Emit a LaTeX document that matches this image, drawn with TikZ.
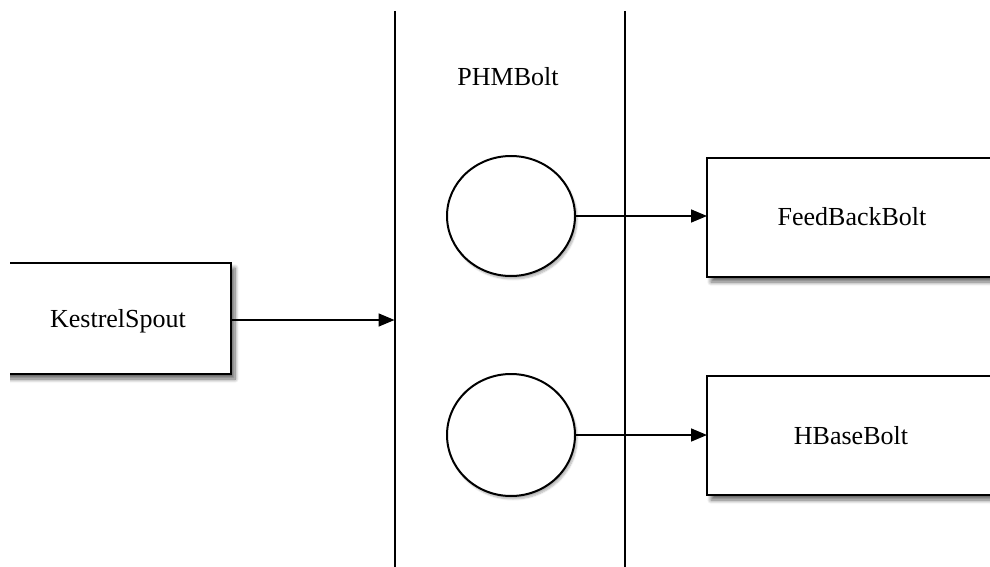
\documentclass[tikz,border=0pt]{standalone}
\usepackage{fontspec}
\setmainfont{Liberation Serif}
\usetikzlibrary{arrows.meta,shadows.blur,shapes.geometric}
\begin{document}
\begin{tikzpicture}[x=1pt,y=-1pt,
  box/.style={draw=black,line width=2.2pt,fill=white,rectangle,
    blur shadow={shadow xshift=4pt,shadow yshift=-5pt,shadow blur steps=8,shadow blur radius=4pt,shadow opacity=60}},
  proc/.style={draw=black,line width=2pt,fill=white,ellipse,
    blur shadow={shadow xshift=2pt,shadow yshift=-3pt,shadow blur steps=6,shadow opacity=30}},
  lane/.style={line width=2pt,draw=black},
  conn/.style={line width=1.6pt,-{Triangle[length=16pt,width=13pt,fill=black]}},
  lbl/.style={font=\fontsize{26}{30}\selectfont}]
\useasboundingbox (0,0) rectangle (990,567);
\clip (0,0) rectangle (990,567);
% lanes
\coordinate (l1t) at (394.5,11);
\coordinate (l1b) at (394.5,575);
\coordinate (l2t) at (624.5,11);
\coordinate (l2b) at (624.5,575);
\draw[lane] (l1t) -- (l1b);
\draw[lane] (l2t) -- (l2b);
\node[lbl] (phm) at (508,77) {PHMBolt};
% boxes
\begin{scope}
\clip (10,0) rectangle (990,567);
\path[box] (-20,263) rectangle (231,374);
\end{scope}
\node[lbl] (ks) at (118,321) {KestrelSpout};
\coordinate (ksr) at (231,320);
\coordinate (lin) at (394.5,320);
\path[box] (707,158) rectangle (1010,277);
\node[lbl] (fb) at (852,217) {FeedBackBolt};
\path[box] (707,376) rectangle (1010,495);
\node[lbl] (hb) at (851,436) {HBaseBolt};
\coordinate (fbl) at (707,216);
\coordinate (hbl) at (707,435);
% processes
\node[proc,minimum width=128pt,minimum height=120pt,inner sep=0pt] (c1) at (511,216) {};
\node[proc,minimum width=128pt,minimum height=122pt,inner sep=0pt] (c2) at (511,435) {};
% connectors
\draw[conn] (ksr) -- (lin);
\draw[conn] (c1.east) -- (fbl);
\draw[conn] (c2.east) -- (hbl);
\end{tikzpicture}
\end{document}
